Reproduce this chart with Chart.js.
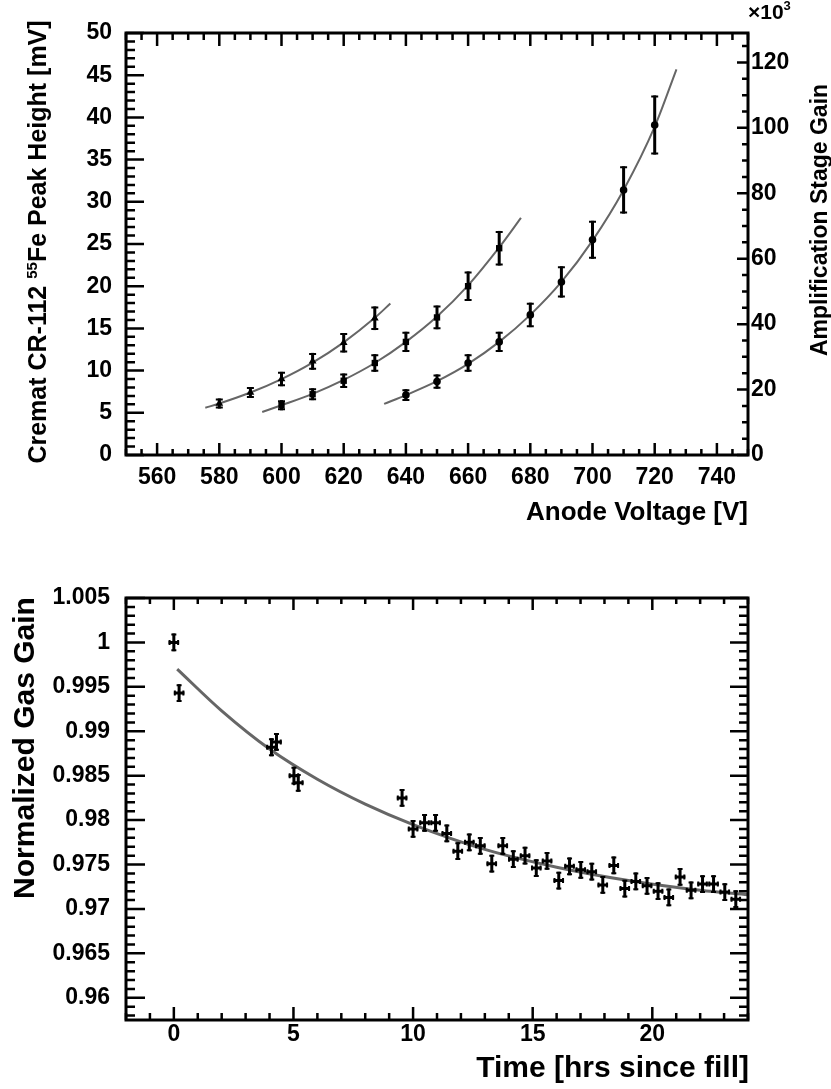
<!DOCTYPE html>
<html>
<head>
<meta charset="utf-8">
<script src="https://cdn.jsdelivr.net/npm/chart.js@4.4.1/dist/chart.umd.min.js"></script>
<style>
  html, body { margin: 0; padding: 0; background: #fff; }
  #wrap { position: relative; width: 831px; height: 1089px; }
  .box { position: absolute; left: 0; width: 831px; }
</style>
</head>
<body>
<div id="wrap">
  <div class="box" style="top:0;height:540px"><canvas id="voltChart"></canvas></div>
  <div class="box" style="top:540px;height:549px"><canvas id="timeChart"></canvas></div>
</div>
<script>
// ---- top panel: 55Fe peak height vs anode voltage ----
const voltTicks = [560, 580, 600, 620, 640, 660, 680, 700, 720, 740];
const peakTicks = [0, 5, 10, 15, 20, 25, 30, 35, 40, 45, 50];
const ampTicks = [0, 20, 40, 60, 80, 100, 120];

// triangles
const voltsA = [580, 590, 600, 610, 620, 630];
const peakA = [6.1, 7.4, 9.0, 11.1, 13.3, 16.2];
const errA = [0.6, 0.65, 0.85, 1.0, 1.15, 1.4];
// squares
const voltsB = [600, 610, 620, 630, 640, 650, 660, 670];
const peakB = [5.9, 7.2, 8.8, 10.9, 13.4, 16.3, 20.0, 24.5];
const errB = [0.6, 0.7, 0.85, 1.05, 1.2, 1.4, 1.75, 2.05];
// circles
const voltsC = [640, 650, 660, 670, 680, 690, 700, 710, 720];
const peakC = [7.1, 8.7, 10.9, 13.4, 16.6, 20.5, 25.5, 31.4, 39.1];
const errC = [0.7, 0.85, 1.05, 1.2, 1.45, 1.85, 2.25, 2.8, 3.5];

// fit curves
const fitAx = [575.5, 580, 590, 600, 610, 620, 630, 635];
const fitAy = [5.6, 6.1, 7.4, 9.0, 10.95, 13.35, 16.25, 17.95];
const fitBx = [593.8, 600, 610, 620, 630, 640, 650, 660, 670, 677];
const fitBy = [5.1, 5.9, 7.25, 8.9, 10.9, 13.4, 16.4, 20.1, 24.6, 28.1];
const fitCx = [633, 640, 650, 660, 670, 680, 690, 700, 710, 720, 727];
const fitCy = [6.05, 7.1, 8.75, 10.8, 13.4, 16.6, 20.5, 25.4, 31.4, 38.9, 45.7];

// ---- bottom panel: normalized gas gain vs time ----
const timeTicks = [0, 5, 10, 15, 20];
const normTicks = [0.96, 0.965, 0.97, 0.975, 0.98, 0.985, 0.99, 0.995, 1, 1.005];

const hours = [0.0, 0.22, 4.08, 4.29, 5.02, 5.2, 9.54, 10.0, 10.48, 10.94, 11.41, 11.87,
  12.35, 12.81, 13.29, 13.75, 14.19, 14.68, 15.15, 15.6, 16.09, 16.54, 17.01, 17.47,
  17.93, 18.39, 18.85, 19.31, 19.78, 20.24, 20.69, 21.16, 21.62, 22.1, 22.56, 23.03, 23.49];
const normGain = [1.0, 0.9943, 0.9882, 0.9888, 0.985, 0.9842, 0.9825, 0.979, 0.9797, 0.9797,
  0.9785, 0.9765, 0.9775, 0.9771, 0.9751, 0.9771, 0.9756, 0.976, 0.9746, 0.9754, 0.9732,
  0.9748, 0.9744, 0.9742, 0.9727, 0.9749, 0.9723, 0.9731, 0.9726, 0.972, 0.9713, 0.9736,
  0.9721, 0.9728, 0.9728, 0.9719, 0.9711];
const hoursErr = 0.22;
const gainErr = 0.001;

const fitTx = [0.14, 2, 4, 6, 8, 10, 13, 16, 19, 22, 24];
const fitTy = [0.997, 0.9923, 0.988, 0.9846, 0.9818, 0.9795, 0.9767, 0.9747, 0.9732, 0.9721, 0.9716];

const FONT = '"Liberation Sans", Arial, Helvetica, sans-serif';
Chart.defaults.font.family = FONT;
Chart.defaults.color = '#000';

const pts = (xs, ys) => xs.map((x, i) => ({ x: x, y: ys[i] }));

// error bars drawn through the dataset's own scales
const errorBars = {
    id: 'errorBars',
    afterDatasetsDraw(chart) {
        const ctx = chart.ctx;
        chart.data.datasets.forEach((ds, i) => {
            if (ds.errY === undefined) return;
            const meta = chart.getDatasetMeta(i);
            const xs = chart.scales[meta.xAxisID];
            const ys = chart.scales[meta.yAxisID];
            const cap = ds.capHalf || 3;
            ctx.save();
            ctx.strokeStyle = '#000';
            ctx.lineCap = 'butt';
            ds.data.forEach((p, j) => {
                const ey = Array.isArray(ds.errY) ? ds.errY[j] : ds.errY;
                const px = xs.getPixelForValue(p.x);
                const py = ys.getPixelForValue(p.y);
                const top = ys.getPixelForValue(p.y + ey);
                const bot = ys.getPixelForValue(p.y - ey);
                ctx.lineWidth = ds.errWidth || 3;
                ctx.beginPath();
                ctx.moveTo(px, top); ctx.lineTo(px, bot);
                if (ds.errX) {
                    const l = xs.getPixelForValue(p.x - ds.errX);
                    const r = xs.getPixelForValue(p.x + ds.errX);
                    ctx.moveTo(l, py); ctx.lineTo(r, py);
                }
                ctx.stroke();
                ctx.lineWidth = 2;
                ctx.beginPath();
                ctx.moveTo(px - cap, top + 1); ctx.lineTo(px + cap, top + 1);
                ctx.moveTo(px - cap, bot - 1); ctx.lineTo(px + cap, bot - 1);
                if (ds.errX) {
                    const l = xs.getPixelForValue(p.x - ds.errX);
                    const r = xs.getPixelForValue(p.x + ds.errX);
                    ctx.moveTo(l + 1, py - cap); ctx.lineTo(l + 1, py + cap);
                    ctx.moveTo(r - 1, py - cap); ctx.lineTo(r - 1, py + cap);
                }
                ctx.stroke();
            });
            ctx.restore();
        });
    }
};

// ROOT-like frame with inward major/minor ticks on all four sides
const rootFrame = {
    id: 'rootFrame',
    afterDraw(chart, args, opts) {
        const ctx = chart.ctx;
        const a = chart.chartArea;
        ctx.save();
        ctx.strokeStyle = '#000';
        ctx.lineWidth = 2.5;
        ctx.lineCap = 'butt';
        (opts.sides || []).forEach(s => {
            const sc = chart.scales[s.scale];
            const marks = [];
            s.major.forEach(v => marks.push([v, s.majorLen]));
            const k0 = Math.ceil(sc.min / s.minorStep - 1e-6);
            const k1 = Math.floor(sc.max / s.minorStep + 1e-6);
            for (let k = k0; k <= k1; k++) {
                const v = k * s.minorStep;
                if (s.major.some(m => Math.abs(m - v) < s.minorStep / 10)) continue;
                marks.push([v, s.minorLen]);
            }
            ctx.beginPath();
            marks.forEach(([v, len]) => {
                const p = sc.getPixelForValue(v);
                if (s.side === 'bottom') { ctx.moveTo(p, a.bottom); ctx.lineTo(p, a.bottom - len); }
                if (s.side === 'top') { ctx.moveTo(p, a.top); ctx.lineTo(p, a.top + len); }
                if (s.side === 'left') { ctx.moveTo(a.left, p); ctx.lineTo(a.left + len, p); }
                if (s.side === 'right') { ctx.moveTo(a.right, p); ctx.lineTo(a.right - len, p); }
            });
            ctx.stroke();
        });
        ctx.lineWidth = 3;
        ctx.strokeRect(a.left, a.top, a.right - a.left, a.bottom - a.top);
        ctx.restore();
    }
};

// text run with optional superscripts; parts: {t, size, rise}
function drawRun(ctx, parts, x, y, align) {
    let total = 0;
    parts.forEach(p => { ctx.font = 'bold ' + p.size + 'px ' + FONT; total += ctx.measureText(p.t).width; });
    let cx = align === 'right' ? x - total : align === 'center' ? x - total / 2 : x;
    ctx.textAlign = 'left';
    ctx.textBaseline = 'alphabetic';
    parts.forEach(p => {
        ctx.font = 'bold ' + p.size + 'px ' + FONT;
        ctx.fillText(p.t, cx, y - (p.rise || 0));
        cx += ctx.measureText(p.t).width;
    });
}

const titles = {
    id: 'titles',
    afterDraw(chart, args, opts) {
        const ctx = chart.ctx;
        ctx.save();
        ctx.fillStyle = '#000';
        (opts.items || []).forEach(it => {
            ctx.save();
            ctx.translate(it.x, it.y);
            if (it.rotated) ctx.rotate(-Math.PI / 2);
            drawRun(ctx, it.parts, 0, 0, it.align);
            ctx.restore();
        });
        ctx.restore();
    }
};

const tickFont = { size: 23, weight: 'bold' };
const fixedTicks = list => scale => { scale.ticks = list.map(v => ({ value: v })); };

new Chart(document.getElementById('voltChart'), {
    type: 'scatter',
    data: {
        datasets: [
            { data: pts(voltsA, peakA), errY: errA, pointStyle: 'triangle', pointRadius: 4.5, backgroundColor: '#000', borderColor: '#000', borderWidth: 0, capHalf: 3.5 },
            { data: pts(voltsB, peakB), errY: errB, pointStyle: 'rect', pointRadius: 4.5, backgroundColor: '#000', borderColor: '#000', borderWidth: 0, capHalf: 3.5 },
            { data: pts(voltsC, peakC), errY: errC, pointStyle: 'circle', pointRadius: 3.8, backgroundColor: '#000', borderColor: '#000', borderWidth: 0, capHalf: 3.5 },
            { data: pts(fitAx, fitAy), showLine: true, pointRadius: 0, borderColor: '#666', borderWidth: 2, cubicInterpolationMode: 'monotone' },
            { data: pts(fitBx, fitBy), showLine: true, pointRadius: 0, borderColor: '#666', borderWidth: 2, cubicInterpolationMode: 'monotone' },
            { data: pts(fitCx, fitCy), showLine: true, pointRadius: 0, borderColor: '#666', borderWidth: 2, cubicInterpolationMode: 'monotone' }
        ]
    },
    options: {
        responsive: true,
        maintainAspectRatio: false,
        animation: false,
        events: [],
        layout: { padding: { top: 33 } },
        scales: {
            x: {
                type: 'linear', min: 550, max: 750,
                afterBuildTicks: fixedTicks(voltTicks),
                afterFit: s => { s.height = 85; },
                grid: { display: false, drawTicks: false }, border: { display: false },
                ticks: { font: tickFont, padding: 9, maxRotation: 0, autoSkip: false }
            },
            y: {
                type: 'linear', position: 'left', min: 0, max: 50,
                afterBuildTicks: fixedTicks(peakTicks),
                afterFit: s => { s.width = 126; },
                grid: { display: false, drawTicks: false }, border: { display: false },
                ticks: { font: tickFont, padding: 14, autoSkip: false }
            },
            y2: {
                type: 'linear', position: 'right', min: 0, max: 129,
                afterBuildTicks: fixedTicks(ampTicks),
                afterFit: s => { s.width = 83; },
                grid: { display: false, drawTicks: false }, border: { display: false },
                ticks: { font: tickFont, padding: 3, autoSkip: false }
            }
        },
        plugins: {
            legend: { display: false },
            tooltip: { enabled: false },
            rootFrame: {
                sides: [
                    { side: 'bottom', scale: 'x', major: voltTicks, minorStep: 5, majorLen: 12, minorLen: 6 },
                    { side: 'top', scale: 'x', major: voltTicks, minorStep: 5, majorLen: 13, minorLen: 7 },
                    { side: 'left', scale: 'y', major: peakTicks, minorStep: 1, majorLen: 18, minorLen: 9 },
                    { side: 'right', scale: 'y2', major: ampTicks, minorStep: 5, majorLen: 11, minorLen: 6 }
                ]
            },
            titles: {
                items: [
                    { x: 748, y: 520, align: 'right', parts: [{ t: 'Anode Voltage [V]', size: 26 }] },
                    { x: 46, y: 242, rotated: true, align: 'center', parts: [
                        { t: 'Cremat CR-112 ', size: 25 }, { t: '55', size: 15, rise: 9 }, { t: 'Fe Peak Height [mV]', size: 25 }] },
                    { x: 827, y: 220, rotated: true, align: 'center', parts: [{ t: 'Amplification Stage Gain', size: 23 }] },
                    { x: 748, y: 19, align: 'left', parts: [{ t: '\u00d710', size: 21 }, { t: '3', size: 13, rise: 9 }] }
                ]
            }
        }
    },
    plugins: [errorBars, rootFrame, titles]
});

new Chart(document.getElementById('timeChart'), {
    type: 'scatter',
    data: {
        datasets: [
            { data: pts(hours, normGain), errY: gainErr, errX: hoursErr, errWidth: 3, capHalf: 2.5, pointRadius: 1.5, backgroundColor: '#000', borderWidth: 0 },
            { data: pts(fitTx, fitTy), showLine: true, pointRadius: 0, borderColor: '#666', borderWidth: 3, cubicInterpolationMode: 'monotone' }
        ]
    },
    options: {
        responsive: true,
        maintainAspectRatio: false,
        animation: false,
        events: [],
        layout: { padding: { top: 58, right: 83 } },
        scales: {
            x: {
                type: 'linear', min: -2, max: 24,
                afterBuildTicks: fixedTicks(timeTicks),
                afterFit: s => { s.height = 69; },
                grid: { display: false, drawTicks: false }, border: { display: false },
                ticks: { font: tickFont, padding: 1, maxRotation: 0, autoSkip: false }
            },
            y: {
                type: 'linear', position: 'left', min: 0.9575, max: 1.005,
                afterBuildTicks: fixedTicks(normTicks),
                afterFit: s => { s.width = 126; },
                grid: { display: false, drawTicks: false }, border: { display: false },
                ticks: { font: tickFont, padding: 16, autoSkip: false, callback: v => String(+v.toFixed(3)) }
            }
        },
        plugins: {
            legend: { display: false },
            tooltip: { enabled: false },
            rootFrame: {
                sides: [
                    { side: 'bottom', scale: 'x', major: timeTicks, minorStep: 1, majorLen: 13, minorLen: 7 },
                    { side: 'top', scale: 'x', major: timeTicks, minorStep: 1, majorLen: 12, minorLen: 6 },
                    { side: 'left', scale: 'y', major: normTicks, minorStep: 0.001, majorLen: 19, minorLen: 9 },
                    { side: 'right', scale: 'y', major: normTicks, minorStep: 0.001, majorLen: 18, minorLen: 9 }
                ]
            },
            titles: {
                items: [
                    { x: 749, y: 537, align: 'right', parts: [{ t: 'Time [hrs since fill]', size: 30 }] },
                    { x: 34, y: 208, rotated: true, align: 'center', parts: [{ t: 'Normalized Gas Gain', size: 30 }] }
                ]
            }
        }
    },
    plugins: [errorBars, rootFrame, titles]
});
</script>
</body>
</html>
